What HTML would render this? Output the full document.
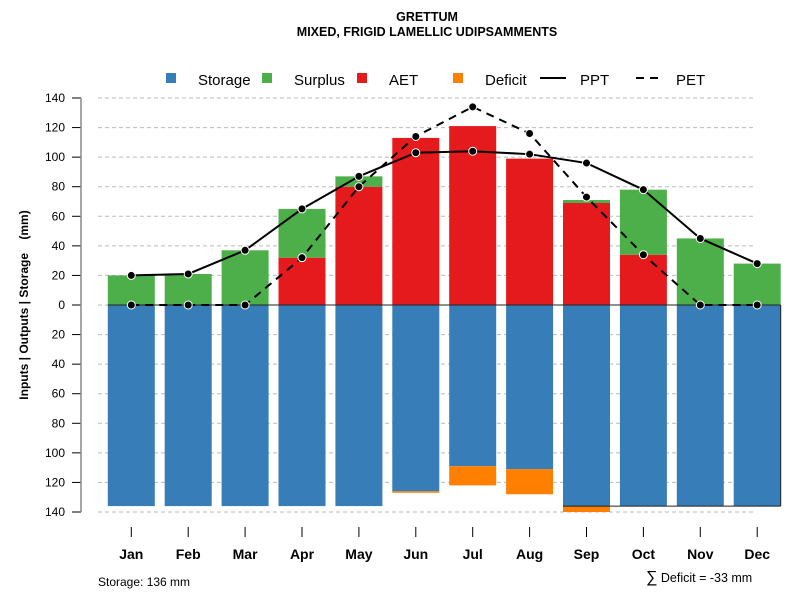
<!DOCTYPE html>
<html><head><meta charset="utf-8"><style>
body{margin:0;background:#fff;font-family:"Liberation Sans",sans-serif}
</style></head><body>
<svg id="c" width="800" height="600" xmlns="http://www.w3.org/2000/svg" font-family="Liberation Sans, sans-serif">
<text x="427" y="21" text-anchor="middle" font-size="12.5" font-weight="bold">GRETTUM</text>
<text x="427" y="36" text-anchor="middle" font-size="12.5" font-weight="bold">MIXED, FRIGID LAMELLIC UDIPSAMMENTS</text>
<g id="legend" font-size="15">
<rect x="166" y="73" width="10" height="10" fill="#377eb8"/>
<text x="198" y="85">Storage</text>
<rect x="262" y="73" width="10" height="10" fill="#4daf4a"/>
<text x="294" y="85">Surplus</text>
<rect x="357" y="73" width="10" height="10" fill="#e41a1c"/>
<text x="389" y="85">AET</text>
<rect x="453" y="73" width="10" height="10" fill="#ff7f00"/>
<text x="485" y="85">Deficit</text>
<line x1="540" y1="78" x2="566" y2="78" stroke="#000" stroke-width="2"/>
<text x="580" y="85">PPT</text>
<line x1="636" y1="78" x2="662" y2="78" stroke="#000" stroke-width="2" stroke-dasharray="8,6"/>
<text x="676" y="85">PET</text>
</g>
<text transform="translate(28,305) rotate(-90)" text-anchor="middle" font-size="12" font-weight="bold" xml:space="preserve">Inputs | Outputs | Storage    (mm)</text>
<text x="98" y="586" font-size="12">Storage: 136 mm</text>
<text x="646" y="582" font-size="12.5"><tspan font-size="16">∑</tspan> Deficit = -33 mm</text>
<g id="plot"></g>
</svg>
<script>
const months=["Jan","Feb","Mar","Apr","May","Jun","Jul","Aug","Sep","Oct","Nov","Dec"];
const storage=[136,136,136,136,136,126,109,111,136,136,136,136];
const deficit=[0,0,0,0,0,1,13,17,4,0,0,0];
const aet=[0,0,0,32,80,113,121,99,69,34,0,0];
const surplus=[20,21,37,33,7,0,0,0,2,44,45,28];
const ppt=[20,21,37,65,87,103,104,102,96,78,45,28];
const pet=[0,0,0,32,80,114,134,116,73,34,0,0];
const yTicks=[140,120,100,80,60,40,20,0,-20,-40,-60,-80,-100,-120,-140];
const NS="http://www.w3.org/2000/svg";
const g=document.getElementById('plot');
const y=v=>305-v*(207/140);
const x=i=>131.3+i*56.9;
const bw=47;
function mk(t,a){const e=document.createElementNS(NS,t);for(const k in a)e.setAttribute(k,a[k]);g.appendChild(e);return e;}
yTicks.forEach(v=>{
 if(v!==0){const l=mk('line',{x1:98,x2:755,y1:y(v),y2:y(v),stroke:'#bbb','stroke-dasharray':'4,3'});
 
 }
 const t=mk('line',{x1:72,x2:81,y1:y(v),y2:y(v),stroke:'#000'});
 
 
 const tx=mk('text',{x:65,y:y(v)+4,'text-anchor':'end','font-size':12});
 tx.textContent=Math.abs(v);
 
 
});
const z=mk('line',{x1:98,x2:755,y1:y(0),y2:y(0),stroke:'#bbb','stroke-dasharray':'4,3'});


const ax=mk('line',{x1:81,x2:81,y1:y(140),y2:y(-140),stroke:'#888','stroke-width':1.5});


function bar(i,a,b,c,n){if(b<=a)return;const r=mk('rect',{x:x(i)-bw/2,y:y(b),width:bw,height:y(a)-y(b),fill:c});
 
 }
months.forEach((m,i)=>{
 bar(i,-storage[i],0,'#377eb8','storage');
 bar(i,-storage[i]-deficit[i],-storage[i],'#ff7f00','deficit');
 bar(i,0,aet[i],'#e41a1c','aet');
 bar(i,aet[i],aet[i]+surplus[i],'#4daf4a','surplus');
 const t=mk('line',{x1:x(i),x2:x(i),y1:527,y2:537,stroke:'#000'});
 
 
 const l=mk('text',{x:x(i),y:559,'text-anchor':'middle','font-size':14,'font-weight':'bold'});
 l.textContent=m;
 
 
});
const zl=mk('line',{x1:x(0)-bw/2,x2:x(11)+bw/2,y1:y(0),y2:y(0),stroke:'#222'});


const rl=mk('line',{x1:x(11)+bw/2,x2:x(11)+bw/2,y1:y(0),y2:y(-136),stroke:'#222'});


const bl=mk('line',{x1:x(8)-bw/2,x2:x(11)+bw/2,y1:y(-136),y2:y(-136),stroke:'#222'});


function line(d,dash,n){
 const p=mk('polyline',{points:d.map((v,i)=>x(i)+','+y(v)).join(' '),fill:'none',stroke:'#000','stroke-width':2,'stroke-dasharray':dash});
 
 
 d.forEach((v,i)=>{const c=mk('circle',{cx:x(i),cy:y(v),r:4,fill:'#000',stroke:'#fff','stroke-width':1});
 
 });
}
line(pet,'8,6','pet');
line(ppt,'none','ppt');
</script>
</body></html>
